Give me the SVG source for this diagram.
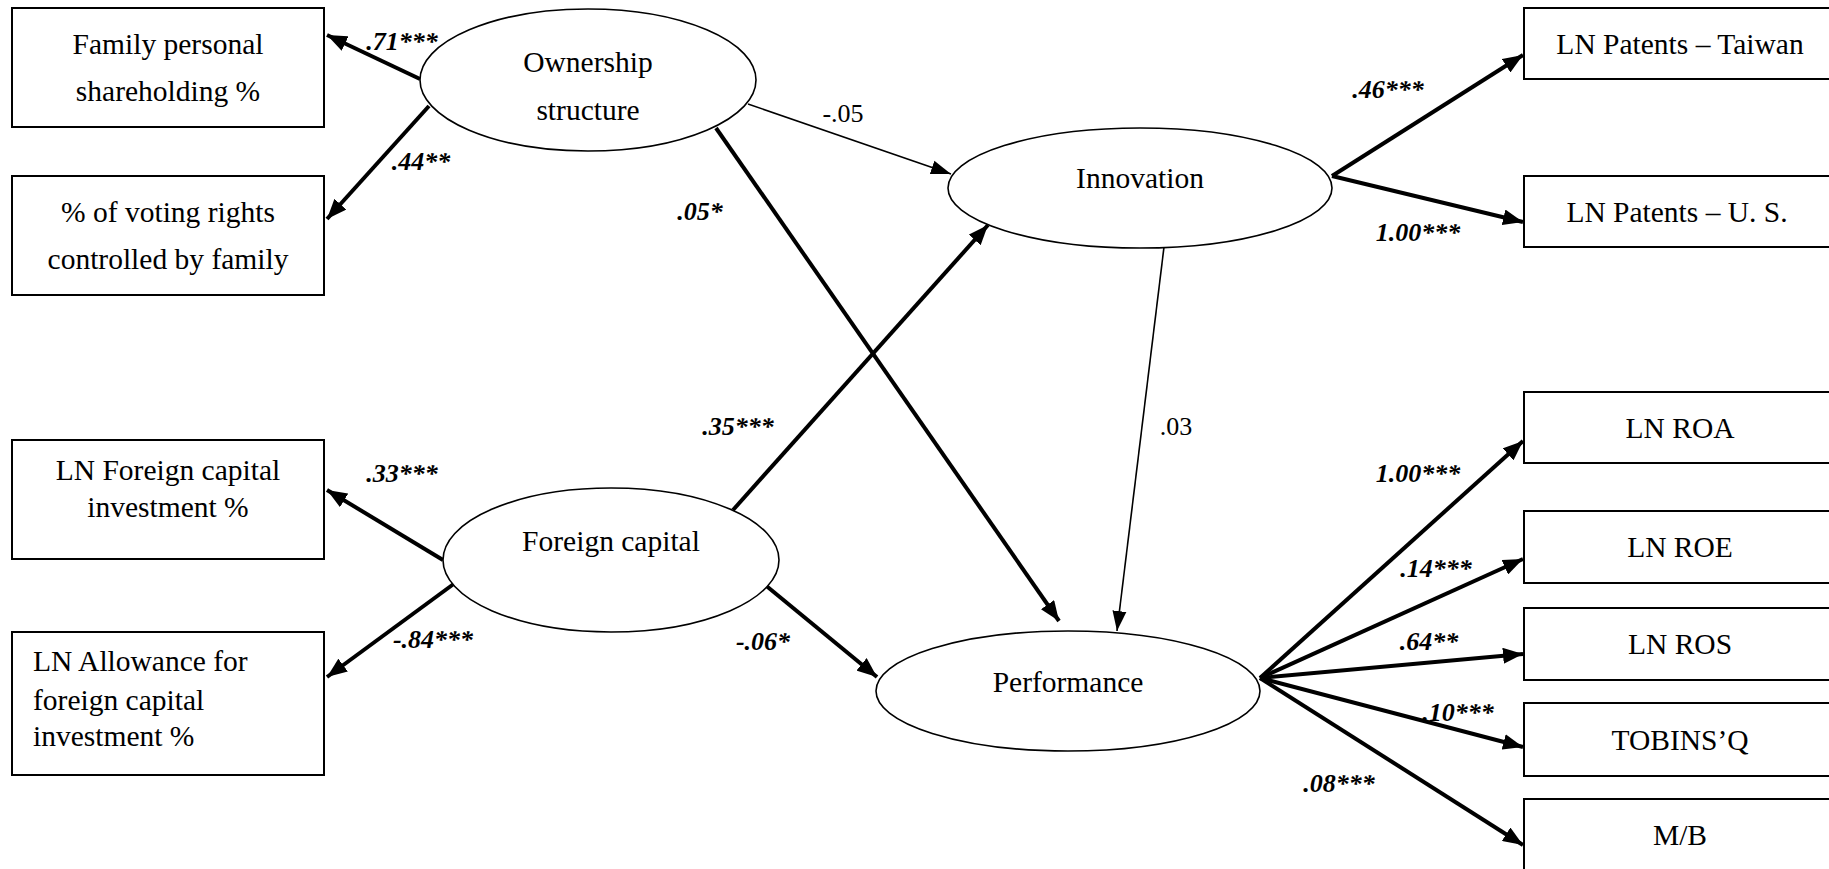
<svg xmlns="http://www.w3.org/2000/svg" width="1829" height="869" viewBox="0 0 1829 869" font-family="Liberation Serif, Times New Roman, DejaVu Serif, serif">
<style>
.box{fill:#fff;stroke:#000;stroke-width:2}
.ell{fill:#fff;stroke:#000;stroke-width:1.6}
.t{font-size:29.5px;fill:#000;text-anchor:middle}
.tl{font-size:29.5px;fill:#000}
.lb{font-size:26px;font-weight:bold;font-style:italic;fill:#000;text-anchor:middle}
.lr{font-size:26px;fill:#000;text-anchor:middle}
.thick{stroke:#000;stroke-width:4;fill:none;marker-end:url(#ah)}
.thin{stroke:#000;stroke-width:1.6;fill:none;marker-end:url(#ahs)}
</style>
<defs>
<marker id="ah" markerUnits="userSpaceOnUse" markerWidth="22" markerHeight="16" refX="20" refY="8" orient="auto">
<path d="M0,0 L20,8 L0,16 Z" fill="#000"/>
</marker>
<marker id="ahs" markerUnits="userSpaceOnUse" markerWidth="22" markerHeight="16" refX="20" refY="8" orient="auto">
<path d="M0,1 L20,8 L0,15 Z" fill="#000"/>
</marker>
</defs>
<rect width="1829" height="869" fill="#fff"/>

<g id="connectors">
<line class="thick" x1="420" y1="79" x2="327" y2="35"/>
<line class="thick" x1="429" y1="106" x2="327" y2="219"/>
<line class="thin" x1="748" y1="104" x2="951" y2="174"/>
<line class="thick" x1="716" y1="128" x2="1059" y2="621"/>
<line class="thick" x1="733" y1="510" x2="988" y2="225"/>
<line class="thick" x1="443" y1="560" x2="327" y2="490"/>
<line class="thick" x1="455" y1="583" x2="327" y2="677"/>
<line class="thick" x1="764" y1="584" x2="877" y2="677"/>
<line class="thin" x1="1164" y1="247" x2="1117" y2="631"/>
<line class="thick" x1="1332" y1="176" x2="1523" y2="55"/>
<line class="thick" x1="1332" y1="176" x2="1523" y2="222"/>
<line class="thick" x1="1260" y1="678" x2="1523" y2="441"/>
<line class="thick" x1="1260" y1="678" x2="1523" y2="559"/>
<line class="thick" x1="1260" y1="678" x2="1523" y2="654"/>
<line class="thick" x1="1260" y1="678" x2="1523" y2="747"/>
<line class="thick" x1="1260" y1="678" x2="1523" y2="845"/>
<text class="lb" x="402" y="50">.71***</text>
<text class="lb" x="421" y="170">.44**</text>
<text class="lb" x="700" y="220">.05*</text>
<text class="lr" x="843" y="122">-.05</text>
<text class="lb" x="738" y="435">.35***</text>
<text class="lb" x="402" y="482">.33***</text>
<text class="lb" x="433" y="648">-.84***</text>
<text class="lb" x="763" y="650">-.06*</text>
<text class="lr" x="1176" y="435">.03</text>
<text class="lb" x="1388" y="98">.46***</text>
<text class="lb" x="1418" y="241">1.00***</text>
<text class="lb" x="1418" y="482">1.00***</text>
<text class="lb" x="1436" y="577">.14***</text>
<text class="lb" x="1429" y="650">.64**</text>
<text class="lb" x="1458" y="721">.10***</text>
<text class="lb" x="1339" y="792">.08***</text>
</g>

<g id="family"><rect class="box" x="12" y="8" width="312" height="119"/>
<text class="t" x="168" y="54">Family personal</text><text class="t" x="168" y="101">shareholding %</text></g>
<g id="voting"><rect class="box" x="12" y="176" width="312" height="119"/>
<text class="t" x="168" y="222">% of voting rights</text><text class="t" x="168" y="269">controlled by family</text></g>
<g id="lnforeign"><rect class="box" x="12" y="440" width="312" height="119"/>
<text class="t" x="168" y="480">LN Foreign capital</text><text class="t" x="168" y="517">investment %</text></g>
<g id="allowance"><rect class="box" x="12" y="632" width="312" height="143"/>
<text class="tl" x="33" y="671">LN Allowance for</text><text class="tl" x="33" y="710">foreign capital</text><text class="tl" x="33" y="746">investment %</text></g>

<g id="ownership"><ellipse class="ell" cx="588" cy="80" rx="168" ry="71"/>
<text class="t" x="588" y="72">Ownership</text><text class="t" x="588" y="120">structure</text></g>
<g id="innovation"><ellipse class="ell" cx="1140" cy="188" rx="192" ry="60"/>
<text class="t" x="1140" y="188">Innovation</text></g>
<g id="foreign"><ellipse class="ell" cx="611" cy="560" rx="168" ry="72"/>
<text class="t" x="611" y="551">Foreign capital</text></g>
<g id="performance"><ellipse class="ell" cx="1068" cy="691" rx="192" ry="60"/>
<text class="t" x="1068" y="692">Performance</text></g>

<g id="taiwan"><rect class="box" x="1524" y="8" width="310" height="71"/>
<text class="t" x="1680" y="54">LN Patents – Taiwan</text></g>
<g id="us"><rect class="box" x="1524" y="176" width="310" height="71"/>
<text class="t" x="1677" y="222">LN Patents – U. S.</text></g>
<g id="roa"><rect class="box" x="1524" y="392" width="310" height="71"/>
<text class="t" x="1680" y="438">LN ROA</text></g>
<g id="roe"><rect class="box" x="1524" y="511" width="310" height="72"/>
<text class="t" x="1680" y="557">LN ROE</text></g>
<g id="ros"><rect class="box" x="1524" y="608" width="310" height="72"/>
<text class="t" x="1680" y="654">LN ROS</text></g>
<g id="tobin"><rect class="box" x="1524" y="703" width="310" height="73"/>
<text class="t" x="1680" y="750">TOBINS’Q</text></g>
<g id="mb"><rect class="box" x="1524" y="799" width="310" height="80"/>
<text class="t" x="1680" y="845">M/B</text></g>
</svg>
